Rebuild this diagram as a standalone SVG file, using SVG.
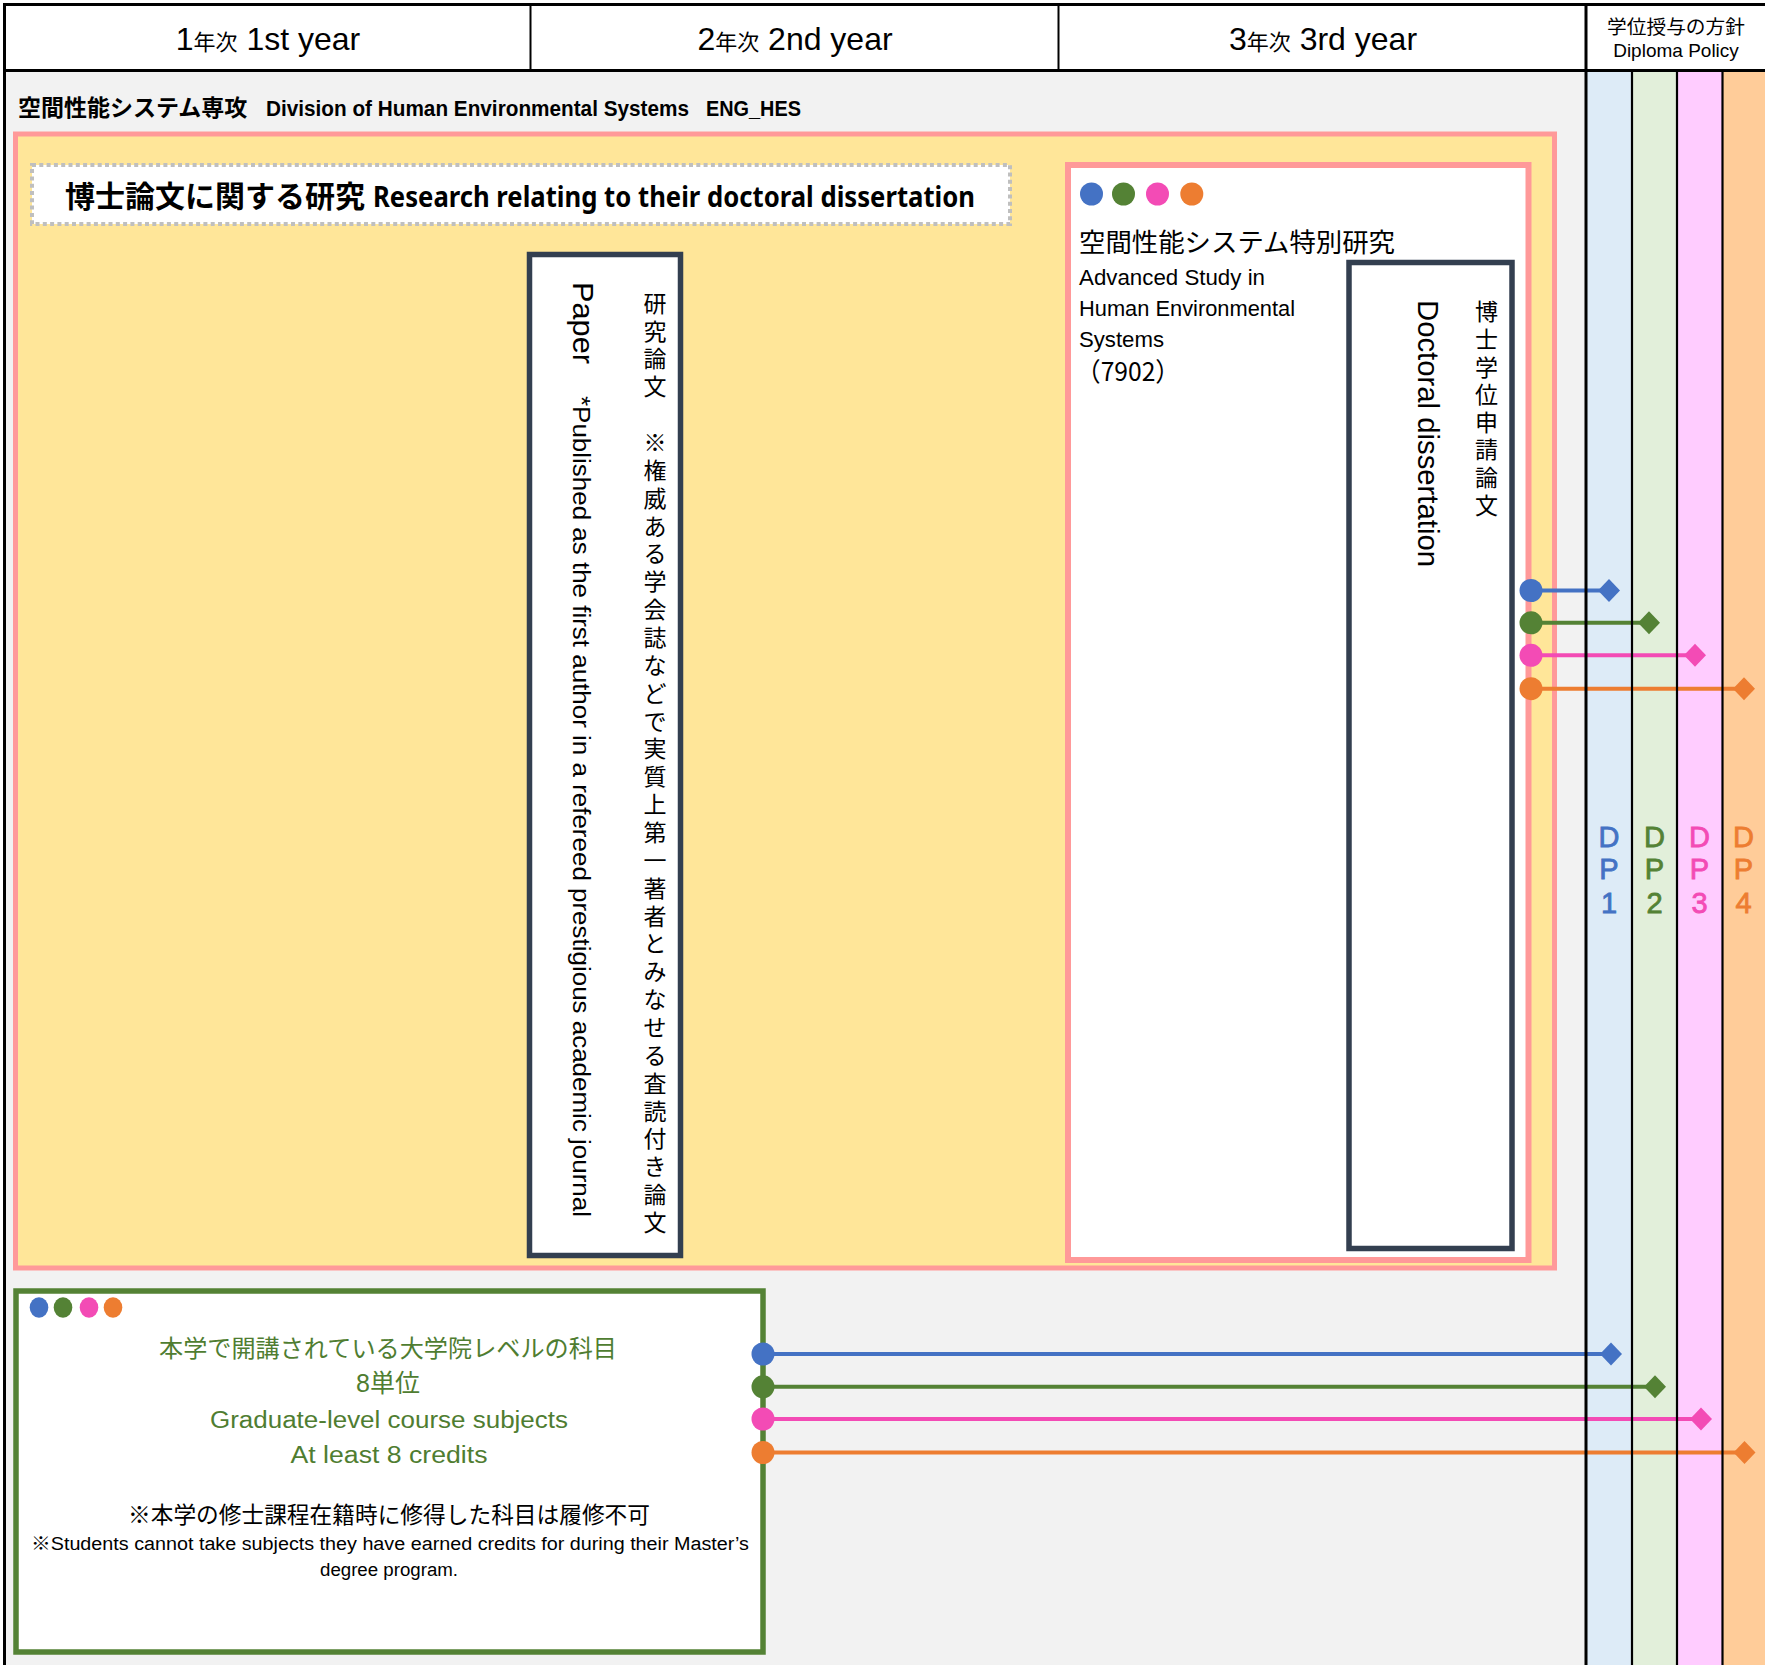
<svg xmlns="http://www.w3.org/2000/svg" width="1765" height="1665" viewBox="0 0 1765 1665">
<style>
.lat{font-family:"Liberation Sans","Noto Sans CJK JP",sans-serif}
.jp{font-family:"Noto Sans CJK JP",sans-serif}
.hdr{font-family:"Liberation Sans","Noto Sans CJK JP",sans-serif;font-size:32px;fill:#000}
.hsm{font-family:"Noto Sans CJK JP",sans-serif;font-size:22px}
.grid{stroke:#000;fill:none}
.grn{fill:#4F7D31}
.cB{stroke:#4472C4;stroke-width:4;fill:none}
.cG{stroke:#548235;stroke-width:4;fill:none}
.cP{stroke:#F34BB5;stroke-width:4;fill:none}
.cO{stroke:#ED7D31;stroke-width:4;fill:none}
</style>
<defs>
<marker id="dotB" markerUnits="userSpaceOnUse" markerWidth="26" markerHeight="26" refX="13" refY="13" overflow="visible"><circle cx="13" cy="13" r="11.5" fill="#4472C4"/></marker>
<marker id="dotG" markerUnits="userSpaceOnUse" markerWidth="26" markerHeight="26" refX="13" refY="13" overflow="visible"><circle cx="13" cy="13" r="11.5" fill="#548235"/></marker>
<marker id="dotP" markerUnits="userSpaceOnUse" markerWidth="26" markerHeight="26" refX="13" refY="13" overflow="visible"><circle cx="13" cy="13" r="11.5" fill="#F34BB5"/></marker>
<marker id="dotO" markerUnits="userSpaceOnUse" markerWidth="26" markerHeight="26" refX="13" refY="13" overflow="visible"><circle cx="13" cy="13" r="11.5" fill="#ED7D31"/></marker>
<marker id="diaB" markerUnits="userSpaceOnUse" markerWidth="26" markerHeight="26" refX="13" refY="13" overflow="visible"><polygon points="13,1.5 24,13 13,24.5 2,13" fill="#4472C4"/></marker>
<marker id="diaG" markerUnits="userSpaceOnUse" markerWidth="26" markerHeight="26" refX="13" refY="13" overflow="visible"><polygon points="13,1.5 24,13 13,24.5 2,13" fill="#548235"/></marker>
<marker id="diaP" markerUnits="userSpaceOnUse" markerWidth="26" markerHeight="26" refX="13" refY="13" overflow="visible"><polygon points="13,1.5 24,13 13,24.5 2,13" fill="#F34BB5"/></marker>
<marker id="diaO" markerUnits="userSpaceOnUse" markerWidth="26" markerHeight="26" refX="13" refY="13" overflow="visible"><polygon points="13,1.5 24,13 13,24.5 2,13" fill="#ED7D31"/></marker>
</defs>

<!-- backgrounds -->
<rect x="0" y="0" width="1765" height="1665" fill="#ffffff"/>
<rect x="5" y="71" width="1581" height="1594" fill="#F2F2F2"/>
<rect x="1586" y="71" width="46" height="1594" fill="#DDEBF7"/>
<rect x="1632" y="71" width="45" height="1594" fill="#E2EFDA"/>
<rect x="1677" y="71" width="45.5" height="1594" fill="#FFCCFF"/>
<rect x="1722.5" y="71" width="42.5" height="1594" fill="#FFCC99"/>

<!-- header -->
<g id="header">
<text x="268" y="50" text-anchor="middle" class="hdr">1<tspan class="hsm">年次</tspan> 1st year</text>
<text x="795" y="50" text-anchor="middle" class="hdr">2<tspan class="hsm">年次</tspan> 2nd year</text>
<text x="1323" y="50" text-anchor="middle" class="hdr">3<tspan class="hsm">年次</tspan> 3rd year</text>
<text x="1676" y="34" text-anchor="middle" class="jp" font-size="19" textLength="138" lengthAdjust="spacingAndGlyphs">学位授与の方針</text>
<text x="1676" y="57" text-anchor="middle" class="lat" font-size="19">Diploma Policy</text>
</g>

<!-- DP labels -->
<g id="dp-labels" class="lat" font-size="29" text-anchor="middle" stroke-width="0.8">
<g id="dp1" fill="#4472C4" stroke="#4472C4"><text x="1609" y="846.5">D</text><text x="1609" y="879">P</text><text x="1609" y="912.5">1</text></g>
<g id="dp2" fill="#548235" stroke="#548235"><text x="1654.5" y="846.5">D</text><text x="1654.5" y="879">P</text><text x="1654.5" y="912.5">2</text></g>
<g id="dp3" fill="#F34BB5" stroke="#F34BB5"><text x="1699.5" y="846.5">D</text><text x="1699.5" y="879">P</text><text x="1699.5" y="912.5">3</text></g>
<g id="dp4" fill="#ED7D31" stroke="#ED7D31"><text x="1743.5" y="846.5">D</text><text x="1743.5" y="879">P</text><text x="1743.5" y="912.5">4</text></g>
</g>

<!-- division label -->
<g id="division-label">
<text x="18" y="116" class="jp" font-size="23" font-weight="bold">空間性能システム専攻</text>
<text x="266" y="116" class="lat" font-size="22" font-weight="bold" textLength="423" lengthAdjust="spacingAndGlyphs">Division of Human Environmental Systems</text>
<text x="706" y="116" class="lat" font-size="22" font-weight="bold" textLength="95" lengthAdjust="spacingAndGlyphs">ENG_HES</text>
</g>

<!-- research area -->
<g id="research-area">
<rect x="15.5" y="134" width="1539" height="1134" fill="#FFE699" stroke="#FF9999" stroke-width="5"/>
</g>

<g id="research-title">
<rect x="32" y="165" width="978" height="59" fill="#ffffff" stroke="#BFBFBF" stroke-width="4" stroke-dasharray="4 3.3"/>
<text x="65" y="207" class="jp" font-size="30" font-weight="bold">博士論文に関する研究</text>
<text x="373" y="207" font-family="'Noto Sans','Liberation Sans',sans-serif" font-size="28" font-weight="bold" textLength="602" lengthAdjust="spacingAndGlyphs">Research relating to their doctoral dissertation</text>
</g>

<g id="paper">
<rect x="529.5" y="254.5" width="151" height="1001" fill="#ffffff" stroke="#333F50" stroke-width="5.5"/>
<text class="jp" font-size="23" fill="#000" text-anchor="middle" x="655 655 655 655 655 655 655 655 655 655 655 655 655 655 655 655 655 655 655 655 655 655 655 655 655 655 655 655 655 655 655 655 655 655" y="311.7 339.5 367.4 395.2 423.1 451 478.8 506.7 534.5 562.4 590.2 618.1 646 673.8 701.7 729.5 757.4 785.2 813.1 841 868.8 896.7 924.5 952.4 980.2 1008.1 1036 1063.8 1091.7 1119.5 1147.4 1175.2 1203.1 1231">研究論文　※権威ある学会誌などで実質上第一著者とみなせる査読付き論文</text>
<text transform="translate(573,282) rotate(90)" class="lat" font-size="30" textLength="82" lengthAdjust="spacingAndGlyphs">Paper</text>
<text transform="translate(573,396) rotate(90)" class="lat" font-size="23" textLength="821" lengthAdjust="spacingAndGlyphs">*Published as the first author in a refereed prestigious academic journal</text>
</g>

<g id="special-study">
<rect x="1068" y="165" width="460.5" height="1095" fill="#ffffff" stroke="#FF9999" stroke-width="6"/>
<circle cx="1091.5" cy="194" r="11.5" fill="#4472C4"/>
<circle cx="1123.5" cy="194" r="11.5" fill="#548235"/>
<circle cx="1157.5" cy="194" r="11.5" fill="#F34BB5"/>
<circle cx="1191.8" cy="194" r="11.5" fill="#ED7D31"/>
<text x="1079" y="252" class="jp" font-size="26" textLength="316" lengthAdjust="spacingAndGlyphs">空間性能システム特別研究</text>
<text x="1079" y="285" class="lat" font-size="22" textLength="186" lengthAdjust="spacingAndGlyphs">Advanced Study in</text>
<text x="1079" y="316" class="lat" font-size="22" textLength="216" lengthAdjust="spacingAndGlyphs">Human Environmental</text>
<text x="1079" y="347" class="lat" font-size="22" textLength="85" lengthAdjust="spacingAndGlyphs">Systems</text>
<text x="1076" y="381" class="jp" font-size="26" textLength="104" lengthAdjust="spacingAndGlyphs">（7902）</text>
</g>

<g id="dissertation">
<rect x="1349" y="262.5" width="163" height="986" fill="#ffffff" stroke="#333F50" stroke-width="5.5"/>
<text class="jp" font-size="23" text-anchor="middle" x="1486.5 1486.5 1486.5 1486.5 1486.5 1486.5 1486.5 1486.5" y="320.4 348 375.6 403.2 430.8 458.4 486 513.6">博士学位申請論文</text>
<text transform="translate(1418,300) rotate(90)" class="lat" font-size="29" textLength="267" lengthAdjust="spacingAndGlyphs">Doctoral dissertation</text>
</g>

<g id="course-subjects">
<rect x="16" y="1291" width="747" height="361" fill="#ffffff" stroke="#548235" stroke-width="5.5"/>
<ellipse cx="39" cy="1307.5" rx="9.3" ry="10.3" fill="#4472C4"/>
<ellipse cx="63" cy="1307.5" rx="9.3" ry="10.3" fill="#548235"/>
<ellipse cx="89" cy="1307.5" rx="9.3" ry="10.3" fill="#F34BB5"/>
<ellipse cx="113" cy="1307.5" rx="9.3" ry="10.3" fill="#ED7D31"/>
<text x="388" y="1357" text-anchor="middle" class="jp grn" font-size="24" textLength="458" lengthAdjust="spacingAndGlyphs">本学で開講されている大学院レベルの科目</text>
<text x="388" y="1392" text-anchor="middle" class="lat grn" font-size="25">8<tspan class="jp">単位</tspan></text>
<text x="389" y="1428" text-anchor="middle" class="lat grn" font-size="23" textLength="358" lengthAdjust="spacingAndGlyphs">Graduate-level course subjects</text>
<text x="389" y="1463" text-anchor="middle" class="lat grn" font-size="23" textLength="197" lengthAdjust="spacingAndGlyphs">At least 8 credits</text>
<text x="389" y="1523" text-anchor="middle" class="jp" font-size="23" textLength="522" lengthAdjust="spacingAndGlyphs">※本学の修士課程在籍時に修得した科目は履修不可</text>
<text x="390" y="1550" text-anchor="middle" class="lat" font-size="18" textLength="718" lengthAdjust="spacingAndGlyphs">※Students cannot take subjects they have earned credits for during their Master’s</text>
<text x="389" y="1576" text-anchor="middle" class="lat" font-size="18" textLength="138" lengthAdjust="spacingAndGlyphs">degree program.</text>
</g>

<!-- connectors -->
<g id="connectors">
<line class="cB" x1="1531" y1="590.5" x2="1609" y2="590.5" marker-start="url(#dotB)" marker-end="url(#diaB)"/>
<line class="cG" x1="1531" y1="622.8" x2="1649" y2="622.8" marker-start="url(#dotG)" marker-end="url(#diaG)"/>
<line class="cP" x1="1531" y1="655.3" x2="1695" y2="655.3" marker-start="url(#dotP)" marker-end="url(#diaP)"/>
<line class="cO" x1="1531" y1="688.7" x2="1744" y2="688.7" marker-start="url(#dotO)" marker-end="url(#diaO)"/>
<line class="cB" x1="763" y1="1354" x2="1611" y2="1354" marker-start="url(#dotB)" marker-end="url(#diaB)"/>
<line class="cG" x1="763" y1="1386.8" x2="1655" y2="1386.8" marker-start="url(#dotG)" marker-end="url(#diaG)"/>
<line class="cP" x1="763" y1="1419" x2="1701" y2="1419" marker-start="url(#dotP)" marker-end="url(#diaP)"/>
<line class="cO" x1="763" y1="1452.5" x2="1744.5" y2="1452.5" marker-start="url(#dotO)" marker-end="url(#diaO)"/>
</g>

<!-- grid lines -->
<g id="grid" class="grid">
<line x1="3" y1="4.5" x2="1765" y2="4.5" stroke-width="3"/>
<line x1="4.5" y1="3" x2="4.5" y2="1665" stroke-width="3"/>
<line x1="3" y1="70.5" x2="1765" y2="70.5" stroke-width="3"/>
<line x1="530.5" y1="4.5" x2="530.5" y2="70.5" stroke-width="2"/>
<line x1="1058.5" y1="4.5" x2="1058.5" y2="70.5" stroke-width="2"/>
<line x1="1586" y1="3" x2="1586" y2="1665" stroke-width="3"/>
<line x1="1632" y1="70.5" x2="1632" y2="1665" stroke-width="2.2"/>
<line x1="1677" y1="70.5" x2="1677" y2="1665" stroke-width="2.2"/>
<line x1="1722.5" y1="70.5" x2="1722.5" y2="1665" stroke-width="2.2"/>
</g>
</svg>
